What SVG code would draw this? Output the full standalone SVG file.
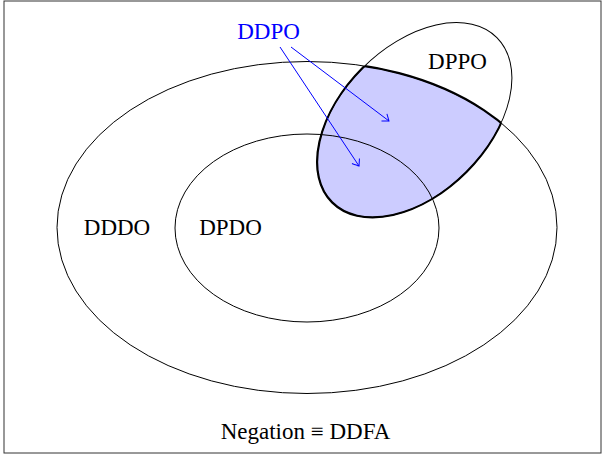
<svg xmlns="http://www.w3.org/2000/svg" width="605" height="457" viewBox="0 0 605 457">
<style>
.t{font-family:"Liberation Serif","DejaVu Serif",serif;font-size:23px;fill:#000;text-anchor:middle}
.thin{fill:none;stroke:#000;stroke-width:1}
.thick{fill:none;stroke:#000;stroke-width:2.2}
.arr{fill:none;stroke:#0000ff;stroke-width:1}
</style>
<defs>
<clipPath id="clipBig"><ellipse cx="307" cy="227.5" rx="250" ry="166"/></clipPath>
<clipPath id="clipRot"><ellipse cx="0" cy="0" rx="116.5" ry="73.5" transform="translate(414.5 120) rotate(-45)"/></clipPath>
<marker id="to" markerUnits="userSpaceOnUse" markerWidth="14" markerHeight="14" viewBox="-8 -7 10 14" refX="0" refY="0" orient="auto">
<path d="M -6 -4.5 Q -1.5 -1.2 0 0 Q -1.5 1.2 -6 4.5" fill="none" stroke="#0000ff" stroke-width="1"/>
</marker>
</defs>
<rect x="4" y="1" width="597" height="452" fill="#fff" stroke="#333" stroke-width="1"/>
<g id="shade" clip-path="url(#clipBig)">
<ellipse cx="0" cy="0" rx="116.5" ry="73.5" transform="translate(414.5 120) rotate(-45)" fill="#ccccff"/>
</g>
<g id="DDDO">
<ellipse class="thin" cx="307" cy="227.5" rx="250" ry="166"/>
<text class="t" x="117" y="235">DDDO</text>
</g>
<g id="DPDO">
<ellipse class="thin" cx="307" cy="228" rx="132" ry="94"/>
<text class="t" x="230.5" y="235">DPDO</text>
</g>
<g id="DPPO">
<ellipse class="thin" cx="0" cy="0" rx="116.5" ry="73.5" transform="translate(414.5 120) rotate(-45)"/>
<text class="t" x="457.5" y="69">DPPO</text>
</g>
<g id="DDPO-region">
<g clip-path="url(#clipBig)"><ellipse class="thick" cx="0" cy="0" rx="116.5" ry="73.5" transform="translate(414.5 120) rotate(-45)"/></g>
<g clip-path="url(#clipRot)"><ellipse class="thick" cx="307" cy="227.5" rx="250" ry="166"/></g>
</g>
<g id="connectors">
<line class="arr" x1="280" y1="47" x2="359" y2="166" marker-end="url(#to)"/>
<line class="arr" x1="291" y1="47" x2="389" y2="121" marker-end="url(#to)"/>
</g>
<g id="DDPO">
<text class="t" x="268.5" y="38.5" style="fill:#0000ff">DDPO</text>
</g>
<g id="caption">
<text class="t" x="305.5" y="439">Negation ≡ DDFA</text>
</g>
</svg>
